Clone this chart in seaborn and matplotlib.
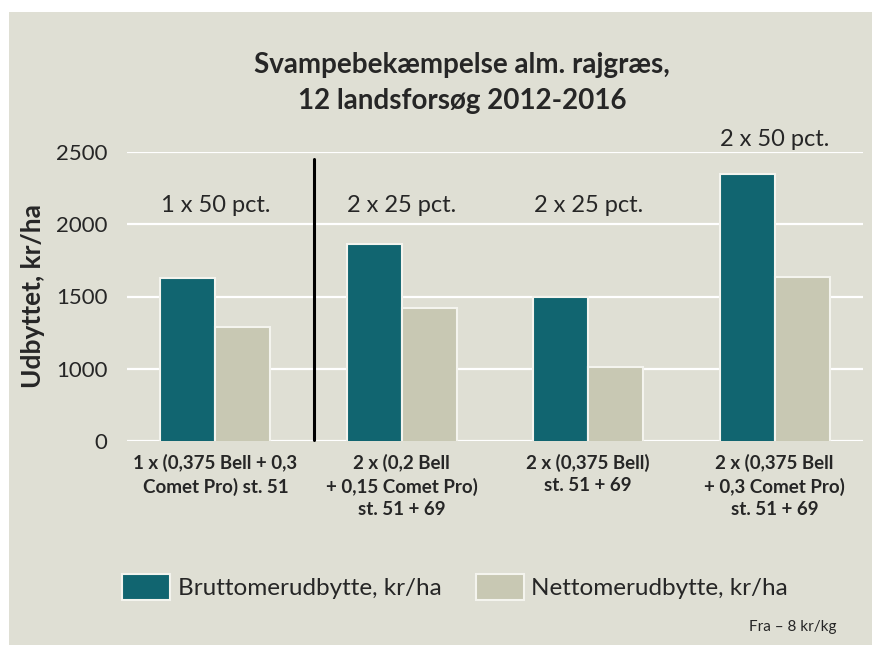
import numpy as np
import pandas as pd
import matplotlib.pyplot as plt
import seaborn as sns
from matplotlib.patches import Rectangle

behandlinger = ['1 x (0,375 Bell + 0,3\nComet Pro) st. 51',
                '2 x (0,2 Bell\n+ 0,15 Comet Pro)\nst. 51 + 69',
                '2 x (0,375 Bell)\nst. 51 + 69',
                '2 x (0,375 Bell\n+ 0,3 Comet Pro)\nst. 51 + 69']
brutto = [1630, 1860, 1500, 2350]
netto = [1290, 1420, 1015, 1635]
doser = ['1 x 50 pct.', '2 x 25 pct.', '2 x 25 pct.', '2 x 50 pct.']
dose_y = [2130, 2130, 2130, 2585]
serier = ['Bruttomerudbytte, kr/ha', 'Nettomerudbytte, kr/ha']
yticks = [500, 1000, 1500, 2000, 2500]
ytick_labels = ['0', '1000', '1500', '2000', '2500']

df = pd.DataFrame({
    'behandling': behandlinger * 2,
    'serie': [serier[0]] * 4 + [serier[1]] * 4,
    'kr': brutto + netto,
})

sns.set_style('white')
plt.rcParams['font.family'] = ['Lato', 'DejaVu Sans']

bg = '#dfdfd4'
fig = plt.figure(figsize=(8.72, 6.45), dpi=100)
fig.patch.set_facecolor('white')
fig.patches.append(Rectangle((9 / 872, 0), 1, 1 - 12 / 645, transform=fig.transFigure,
                             facecolor=bg, edgecolor='none', zorder=-10))
ax = fig.add_axes([127 / 872, 1 - 441 / 645, 736 / 872, 289 / 645])
ax.set_facecolor(bg)

sns.barplot(data=df, x='behandling', y='kr', hue='serie', ax=ax,
            palette=['#116570', '#c8c8b3'], saturation=1, width=0.59,
            edgecolor='#f4f4ee', linewidth=1.5, zorder=3, legend=True)

ax.set_ylim(500, 2500)
ax.set_yticks(yticks)
ax.set_yticklabels(ytick_labels, fontsize=16)
ax.yaxis.grid(True, color='white', linewidth=1.6, zorder=0)
ax.set_axisbelow(True)
for s in ax.spines.values():
    s.set_visible(False)
ax.tick_params(length=0, axis='y', pad=14)
ax.tick_params(length=0, axis='x', pad=9)
plt.setp(ax.get_xticklabels(), fontsize=13.5, fontweight='bold', linespacing=1.4,
         va='top')
ax.set_xlabel('')
ax.set_ylabel('Udbyttet, kr/ha', fontsize=19, fontweight='bold', labelpad=8)

# skillelinje mellem 1 og 2 behandlinger
ax.plot([0.53, 0.53], [510, 2455], color='black', linewidth=2.2, zorder=4, clip_on=False)

for i, (t, yy) in enumerate(zip(doser, dose_y)):
    ax.text(i, yy, t, ha='center', va='center', fontsize=17, clip_on=False)

handles, labels = ax.get_legend_handles_labels()
ax.get_legend().remove()
fig.legend(handles, labels, loc='center', bbox_to_anchor=(455 / 872, 1 - 587 / 645),
           ncol=2, frameon=False, fontsize=17.5, handlelength=2.0, handleheight=1.3,
           handletextpad=0.3, columnspacing=1.4)

fig.text(462 / 872, 1 - 65 / 645, 'Svampebekæmpelse alm. rajgræs,',
         ha='center', va='center', fontsize=20, fontweight='bold')
fig.text(462 / 872, 1 - 101 / 645, '12 landsforsøg 2012-2016',
         ha='center', va='center', fontsize=20, fontweight='bold')
fig.text(836 / 872, 1 - 627 / 645, 'Fra – 8 kr/kg', ha='right', va='center', fontsize=11)

plt.savefig('out.png', dpi=100, facecolor=fig.get_facecolor())
